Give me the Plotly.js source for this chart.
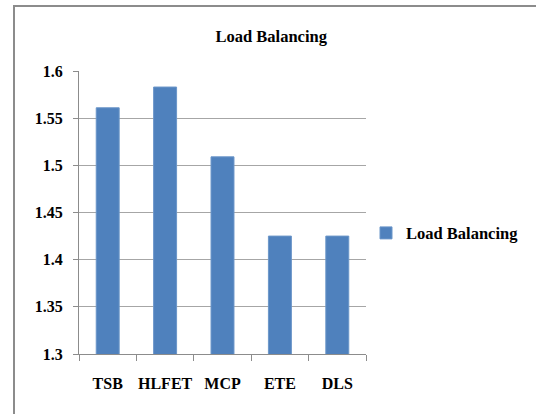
<!DOCTYPE html>
<html>
<head>
<meta charset="utf-8">
<script src="https://cdn.plot.ly/plotly-3.0.1.min.js"></script>
<style>
  html, body { margin: 0; padding: 0; background: #fff; }
  #wrap { position: relative; width: 536px; height: 414px; overflow: hidden; }
  #frame { position: absolute; left: 13px; top: 5px; width: 600px; height: 500px;
           border-left: 2px solid #8c8c8c; border-top: 2px solid #8c8c8c; pointer-events: none; z-index: 5; }
  #chart { position: absolute; left: 0; top: 0; width: 536px; height: 414px; }
</style>
</head>
<body>
<div id="wrap">
  <div id="chart"></div>
  <div id="frame"></div>
</div>
<script>
const categories = ["TSB", "HLFET", "MCP", "ETE", "DLS"];
const loadBalancing = [1.561, 1.583, 1.509, 1.425, 1.425];
const yTicks = [1.3, 1.35, 1.4, 1.45, 1.5, 1.55, 1.6];
const yTickLabels = ["1.3", "1.35", "1.4", "1.45", "1.5", "1.55", "1.6"];

const fam = "Liberation Serif, Times New Roman, serif";

const data = [{
  type: "bar",
  name: "<b>Load Balancing</b>",
  x: categories,
  y: loadBalancing,
  marker: { color: "#4F81BD", line: { color: "#6b96c9", width: 1 } }
}];

const layout = {
  width: 536, height: 414,
  margin: { l: 79, r: 170, t: 71, b: 60, pad: 0 },
  paper_bgcolor: "#fff", plot_bgcolor: "#fff",
  font: { family: fam, color: "#000", size: 16 },
  bargap: 0.6,
  showlegend: true,
  title: {
    text: "<b>Load Balancing</b>",
    font: { family: fam, size: 16.5, color: "#000" },
    x: 0.506, xref: "container", xanchor: "center",
    y: 0.913, yref: "container", yanchor: "middle"
  },
  xaxis: {
    type: "category",
    tickson: "boundaries",
    tickangle: 0,
    ticks: "outside", ticklen: 6, tickcolor: "#8c8c8c", tickwidth: 1,
    showline: true, linecolor: "#8c8c8c", linewidth: 1,
    showgrid: false,
    ticklabelstandoff: 15,
    tickfont: { family: fam, size: 16, color: "#000", weight: "bold" }
  },
  yaxis: {
    range: [1.3, 1.6],
    tickvals: yTicks, ticktext: yTickLabels,
    ticks: "outside", ticklen: 5, tickcolor: "#8c8c8c", tickwidth: 1,
    showline: true, linecolor: "#8c8c8c", linewidth: 1,
    showgrid: true, gridcolor: "#a6a6a6", gridwidth: 1,
    zeroline: false,
    ticklabelstandoff: 7,
    tickfont: { family: fam, size: 16, color: "#000", weight: "bold" }
  },
  legend: {
    x: 1.0, xanchor: "left", xref: "paper",
    y: 0.427, yanchor: "middle", yref: "paper",
    font: { family: fam, size: 16.5, color: "#000" },
    bgcolor: "rgba(0,0,0,0)"
  }
};

Plotly.newPlot("chart", data, layout, { displayModeBar: false, staticPlot: true });
</script>
</body>
</html>
